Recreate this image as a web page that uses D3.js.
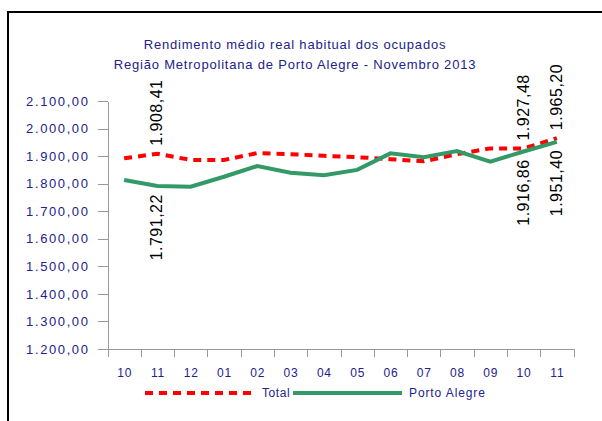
<!DOCTYPE html>
<html>
<head>
<meta charset="utf-8">
<script src="https://cdn.jsdelivr.net/npm/d3@7"></script>
<style>
  body { margin: 0; background: #fff; }
  svg { display: block; font-family: "Liberation Sans", Arial, sans-serif; }
  .axis path, .axis line { stroke: #999; shape-rendering: crispEdges; }
  .axis text { fill: #22228c; }
</style>
</head>
<body>
<svg id="chart" width="602" height="421"></svg>
<script>
var categories = ["10", "11", "12", "01", "02", "03", "04", "05", "06", "07", "08", "09", "10", "11"];
var totalValues = [1892, 1908.41, 1886, 1886, 1911, 1907, 1901, 1896, 1889, 1881, 1907, 1928, 1927.48, 1965.20];
var portoValues = [1813, 1791.22, 1789, 1825, 1864, 1840, 1831, 1850, 1910, 1896, 1918, 1880, 1916.86, 1951.40];
var yTicks = [1200, 1300, 1400, 1500, 1600, 1700, 1800, 1900, 2000, 2100];
// rotulos de dados: [serie, indice, acima?]
var dataLabels = [
  ["total", 1, true], ["porto", 1, false],
  ["total", 12, true], ["porto", 12, false],
  ["total", 13, true], ["porto", 13, false]
];
var titleLines = ["Rendimento médio real habitual dos ocupados",
                  "Região Metropolitana de Porto Alegre - Novembro 2013"];

var navy = "#22228c";
var svg = d3.select("#chart");

// moldura
svg.append("rect")
    .attr("x", 8).attr("y", 12)
    .attr("width", 640).attr("height", 440)
    .attr("fill", "none")
    .attr("stroke", "#000")
    .attr("stroke-width", 2);

var ptBR = d3.formatLocale({decimal: ",", thousands: ".", grouping: [3], currency: ["", ""]});
var fmt = ptBR.format(",.2f");

var x = d3.scaleLinear().domain([0, categories.length]).range([107.5, 573.5]);
var y = d3.scaleLinear().domain([1200, 2100]).range([349, 101]);

// titulo
svg.selectAll(".title")
    .data(titleLines)
    .enter().append("text")
    .attr("class", "title")
    .attr("x", 295)
    .attr("y", function(d, i) { return 49 + i * 20; })
    .attr("text-anchor", "middle")
    .attr("font-size", 13)
    .attr("letter-spacing", 0.8)
    .attr("fill", navy)
    .text(function(d) { return d; });

// eixo y
svg.append("g")
    .attr("class", "axis")
    .attr("transform", "translate(" + x(0) + ",0)")
    .call(d3.axisLeft(y)
        .tickValues(yTicks)
        .tickSize(10)
        .tickSizeOuter(0)
        .tickPadding(8)
        .tickFormat(fmt))
    .selectAll("text")
    .attr("font-size", 13)
    .attr("letter-spacing", 1.6)
    .attr("font-family", "Liberation Sans, Arial, sans-serif");

// eixo x (marcas nas divisas)
svg.append("g")
    .attr("class", "axis")
    .attr("transform", "translate(0," + y(1200) + ")")
    .call(d3.axisBottom(x)
        .tickValues(d3.range(categories.length + 1))
        .tickSize(8)
        .tickSizeOuter(0)
        .tickFormat(""));

// rotulos de categoria
var xl = svg.append("g")
    .attr("class", "axis")
    .attr("transform", "translate(0," + y(1200) + ")")
    .call(d3.axisBottom(x)
        .tickValues(d3.range(categories.length).map(function(i) { return i + 0.5; }))
        .tickSize(0)
        .tickPadding(19)
        .tickFormat(function(d) { return categories[Math.floor(d)]; }));
xl.select(".domain").remove();
xl.selectAll("text")
    .attr("font-size", 12)
    .attr("letter-spacing", 0.8)
    .attr("font-family", "Liberation Sans, Arial, sans-serif");

var line = d3.line()
    .x(function(d, i) { return x(i + 0.5); })
    .y(function(d) { return y(d); });

svg.append("path")
    .datum(totalValues)
    .attr("d", line)
    .attr("fill", "none")
    .attr("stroke", "#ff0000")
    .attr("stroke-width", 4)
    .attr("stroke-dasharray", "8,6");

svg.append("path")
    .datum(portoValues)
    .attr("d", line)
    .attr("fill", "none")
    .attr("stroke", "#339966")
    .attr("stroke-width", 4);

// rotulos de dados
svg.selectAll(".dlabel")
    .data(dataLabels)
    .enter().append("text")
    .attr("class", "dlabel")
    .attr("transform", function(d) {
      var v = d[0] == "total" ? totalValues[d[1]] : portoValues[d[1]];
      var yy = y(v) + (d[2] ? -8 : 8);
      return "translate(" + (x(d[1] + 0.5) + 5) + "," + yy + ") rotate(-90)";
    })
    .attr("text-anchor", function(d) { return d[2] ? "start" : "end"; })
    .attr("font-size", 16)
    .attr("letter-spacing", 0.5)
    .attr("fill", "#000")
    .text(function(d) {
      return fmt(d[0] == "total" ? totalValues[d[1]] : portoValues[d[1]]);
    });

// legenda
var legend = svg.append("g").attr("transform", "translate(0,393)");
legend.append("line")
    .attr("x1", 145).attr("x2", 256)
    .attr("stroke", "#ff0000").attr("stroke-width", 4)
    .attr("stroke-dasharray", "8,6");
legend.append("text")
    .attr("x", 262).attr("y", 4)
    .attr("font-size", 12).attr("letter-spacing", 0.6)
    .attr("fill", navy).text("Total");
legend.append("line")
    .attr("x1", 293).attr("x2", 402)
    .attr("stroke", "#339966").attr("stroke-width", 4);
legend.append("text")
    .attr("x", 409).attr("y", 4)
    .attr("font-size", 12).attr("letter-spacing", 0.9)
    .attr("fill", navy).text("Porto Alegre");
</script>
</body>
</html>
